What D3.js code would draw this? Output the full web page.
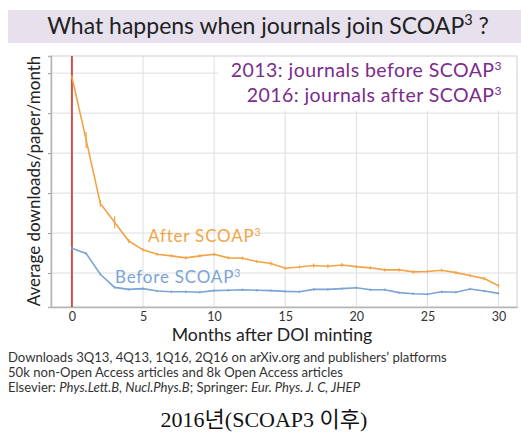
<!DOCTYPE html>
<html>
<head>
<meta charset="utf-8">
<script src="https://cdn.jsdelivr.net/npm/d3@7"></script>
<style>
  body { margin: 0; background: #fff; }
  svg { display: block; font-family: Lato, "Open Sans", sans-serif; }
</style>
</head>
<body>
<div id="chart"></div>
<script>
// months after DOI minting
const months = d3.range(0, 31);
// 2016: journals after SCOAP3 (orange)
const afterValues = [5.91, 4.33, 2.74, 2.27, 1.80, 1.58, 1.47, 1.43, 1.38, 1.43, 1.47,
  1.38, 1.37, 1.29, 1.24, 1.12, 1.15, 1.19, 1.17, 1.20, 1.16, 1.13, 1.08, 1.08, 1.03,
  1.04, 1.07, 1.01, 0.94, 0.86, 0.68];
const afterErrors = [0.04, 0.2, 0.08, 0.15, 0.05, 0.04, 0.04, 0.04, 0.04, 0.04, 0.04,
  0.04, 0.04, 0.04, 0.05, 0.04, 0.04, 0.05, 0.05, 0.05, 0.04, 0.04, 0.04, 0.04, 0.04,
  0.04, 0.04, 0.04, 0.04, 0.04, 0.05];
// 2013: journals before SCOAP3 (blue)
const beforeValues = [1.62, 1.49, 0.97, 0.64, 0.59, 0.61, 0.55, 0.53, 0.53, 0.52, 0.56,
  0.57, 0.58, 0.57, 0.56, 0.54, 0.53, 0.59, 0.59, 0.61, 0.63, 0.58, 0.58, 0.51, 0.48,
  0.47, 0.53, 0.52, 0.60, 0.55, 0.49];
const beforeErrors = months.map(() => 0.03);
const xTicks = [0, 5, 10, 15, 20, 25, 30];
const yTicks = [1, 2, 3, 4, 5, 6];
const footnotes = [
  [["Downloads 3Q13, 4Q13, 1Q16, 2Q16 on arXiv.org and publishers\u2019 platforms", false]],
  [["50k non-Open Access articles and 8k Open Access articles", false]],
  [["Elsevier: ", false], ["Phys.Lett.B, Nucl.Phys.B", true], ["; Springer: ", false], ["Eur. Phys. J. C, JHEP", true]]
];

const width = 521, height = 432;
const margin = { top: 56, right: 4, bottom: 125, left: 51 };

const svg = d3.select("#chart").append("svg")
  .attr("width", width)
  .attr("height", height);

// title band
svg.append("rect")
  .attr("x", 8).attr("y", 10)
  .attr("width", width - 8).attr("height", 33)
  .attr("fill", "#e7e1ee");

const title = svg.append("text")
  .attr("x", 268).attr("y", 34)
  .attr("text-anchor", "middle")
  .attr("font-size", 23)
  .attr("fill", "#222");
title.append("tspan").text("What happens when journals join SCOAP");
title.append("tspan").attr("font-size", 14.5).attr("dy", -9).text("3");
title.append("tspan").attr("dy", 9).text(" ?");

const x = d3.scaleLinear()
  .domain([-1.47, 31.3])
  .range([margin.left, width - margin.right]);

const y = d3.scaleLinear()
  .domain([0.15, 6.43])
  .range([height - margin.bottom, margin.top]);

const g = svg.append("g");

// grid
g.selectAll(".vgrid")
  .data(xTicks)
  .enter()
  .append("line")
  .attr("x1", d => x(d)).attr("x2", d => x(d))
  .attr("y1", y.range()[1]).attr("y2", y.range()[0])
  .attr("stroke", "#dedede")
  .attr("stroke-width", 1);

g.selectAll(".hgrid")
  .data(yTicks)
  .enter()
  .append("line")
  .attr("x1", x.range()[0]).attr("x2", x.range()[1])
  .attr("y1", d => y(d)).attr("y2", d => y(d))
  .attr("stroke", "#dedede")
  .attr("stroke-width", 1);

// top / right frame
g.append("rect")
  .attr("x", x.range()[0]).attr("y", y.range()[1])
  .attr("width", x.range()[1] - x.range()[0])
  .attr("height", y.range()[0] - y.range()[1])
  .attr("fill", "none")
  .attr("stroke", "#d0d0d0");

// legend box covers the grid
g.append("rect")
  .attr("x", 218).attr("y", y.range()[1] + 1)
  .attr("width", x.range()[1] - 219).attr("height", 54)
  .attr("fill", "#fff");

// axes
const xAxis = g.append("g")
  .attr("transform", `translate(0,${y.range()[0]})`)
  .call(d3.axisBottom(x).tickValues(xTicks).tickSize(0).tickPadding(5));
xAxis.select(".domain").attr("stroke", "#b5b5b5").attr("stroke-width", 1.5);
xAxis.selectAll("text")
  .attr("font-size", 12.5)
  .attr("fill", "#333")
  .style("font-family", "Lato, sans-serif");

const yAxis = g.append("g")
  .attr("transform", `translate(${x.range()[0]},0)`)
  .call(d3.axisLeft(y).tickValues(yTicks).tickSize(3).tickFormat(""));
yAxis.select(".domain").attr("stroke", "#b5b5b5").attr("stroke-width", 1.5);
yAxis.selectAll(".tick line").attr("stroke", "#999");

// red line at month 0
g.append("line")
  .attr("x1", x(0)).attr("x2", x(0))
  .attr("y1", y.range()[1]).attr("y2", y.range()[0])
  .attr("stroke", "#c8534b")
  .attr("stroke-width", 2);

function drawSeries(values, errors, color) {
  const pts = months.map((m, i) => ({ m, v: values[i], e: errors[i] }));
  g.append("path")
    .datum(pts)
    .attr("fill", "none")
    .attr("stroke", color)
    .attr("stroke-width", 1.6)
    .attr("d", d3.line().x(d => x(d.m)).y(d => y(d.v)));
  g.selectAll(null)
    .data(pts)
    .enter()
    .append("line")
    .attr("x1", d => x(d.m)).attr("x2", d => x(d.m))
    .attr("y1", d => y(d.v - d.e)).attr("y2", d => y(d.v + d.e))
    .attr("stroke", color)
    .attr("stroke-width", 1.2);
}

drawSeries(beforeValues, beforeErrors, "#7aa3d6");
drawSeries(afterValues, afterErrors, "#f2a444");

function supText(parent, xPos, yPos, str, size, color, anchor, spacing) {
  const t = parent.append("text")
    .attr("x", xPos).attr("y", yPos)
    .attr("text-anchor", anchor)
    .attr("font-size", size)
    .attr("letter-spacing", spacing)
    .attr("fill", color);
  t.append("tspan").text(str);
  t.append("tspan").attr("font-size", size * 0.62).attr("dy", -size * 0.38).text("3");
  return t;
}

// series labels
supText(g, 148, 242, "After SCOAP", 17, "#f2a444", "start", 0.8);
supText(g, 115, 283, "Before SCOAP", 17, "#7aa3d6", "start", 0.8);

// legend text
supText(g, 502, 77, "2013: journals before SCOAP", 19.5, "#7c2c8c", "end", 0.45);
supText(g, 502, 102, "2016: journals after SCOAP", 19.5, "#7c2c8c", "end", 0.45);

// axis titles
svg.append("text")
  .attr("transform", `translate(40,181) rotate(-90)`)
  .attr("text-anchor", "middle")
  .attr("font-size", 17)
  .attr("fill", "#222")
  .text("Average downloads/paper/month");

svg.append("text")
  .attr("x", 272).attr("y", 341)
  .attr("text-anchor", "middle")
  .attr("font-size", 17.7)
  .attr("fill", "#222")
  .text("Months after DOI minting");

// footnotes
footnotes.forEach((parts, i) => {
  const t = svg.append("text")
    .attr("x", 8).attr("y", 362 + i * 15)
    .attr("font-size", 13.1)
    .attr("fill", "#333");
  parts.forEach(([s, it]) => {
    t.append("tspan").attr("font-style", it ? "italic" : "normal").text(s);
  });
});

// caption
svg.append("text")
  .attr("x", 264).attr("y", 427)
  .attr("text-anchor", "middle")
  .attr("font-size", 22)
  .attr("fill", "#111")
  .style("font-family", "'Liberation Serif', 'DejaVu Serif', 'Noto Sans CJK KR', serif")
  .text("2016년(SCOAP3 이후)");
</script>
</body>
</html>
